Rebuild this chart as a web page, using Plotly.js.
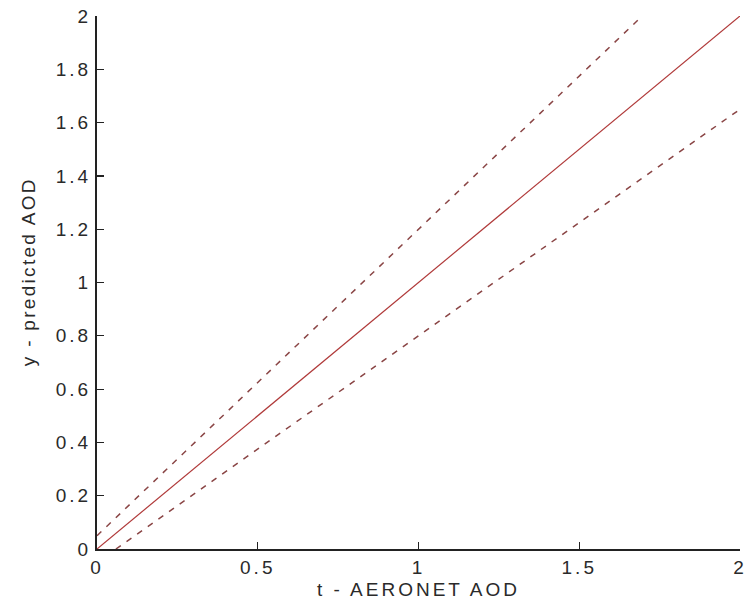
<!DOCTYPE html>
<html>
<head>
<meta charset="utf-8">
<script src="https://cdn.plot.ly/plotly-3.0.1.min.js"></script>
<style>
html,body{margin:0;padding:0;background:#fff;}
#chart{width:754px;height:603px;}
#chart .xtick text, #chart .ytick text { letter-spacing: 3px; }
#chart .xtitle { letter-spacing: 3px; }
#chart .annotation-text { letter-spacing: 2.3px; }
</style>
</head>
<body>
<div id="chart"></div>
<script>
// 1:1 line
const oneX = [0, 2];
const oneY = [0, 2];
// upper envelope y = 1.15x + 0.05
const upX = [0, 1.696];
const upY = [0.05, 2];
// lower envelope y = 0.85x - 0.05
const loX = [0.0588, 2];
const loY = [0, 1.65];
const yTickVals = [0, 0.2, 0.4, 0.6, 0.8, 1, 1.2, 1.4, 1.6, 1.8, 2];
const yTickText = ['0','0.2','0.4','0.6','0.8','1','1.2','1.4','1.6','1.8','2'];
const xTickVals = [0, 0.5, 1, 1.5, 2];
const xTickText = ['0','0.5','1','1.5','2'];
const xTitle = 't - AERONET AOD';
const yTitle = 'y - predicted AOD';

const traces = [
  {x: oneX, y: oneY, mode: 'lines', line: {color: '#b03a3a', width: 1.2}, hoverinfo: 'skip'},
  {x: upX, y: upY, mode: 'lines', line: {color: '#8a4545', width: 1.5, dash: '6px,7px'}, hoverinfo: 'skip'},
  {x: loX, y: loY, mode: 'lines', line: {color: '#8a4545', width: 1.5, dash: '6px,7px'}, hoverinfo: 'skip'}
];
const fontCol = '#2a2a2a';
const layout = {
  width: 754, height: 603,
  margin: {l: 97, r: 14, t: 16, b: 54},
  paper_bgcolor: '#fff', plot_bgcolor: '#fff',
  showlegend: false,
  font: {family: 'Liberation Sans, Arial, sans-serif', size: 19, color: fontCol},
  xaxis: {
    range: [0, 2], tickvals: xTickVals, ticktext: xTickText,
    ticks: 'inside', ticklen: 7, tickcolor: '#222', tickwidth: 1.2,
    showline: true, linecolor: '#222', linewidth: 2, mirror: false,
    showgrid: false, zeroline: false,
    tickfont: {size: 19, color: fontCol},
    title: {text: xTitle, font: {size: 19, color: fontCol}, standoff: 6}
  },
  yaxis: {
    range: [0, 2], tickvals: yTickVals, ticktext: yTickText,
    ticks: 'inside', ticklen: 7, tickcolor: '#222', tickwidth: 1.2,
    showline: true, linecolor: '#222', linewidth: 2, mirror: false,
    showgrid: false, zeroline: false,
    tickfont: {size: 19, color: fontCol}
  },
  annotations: [{
    text: yTitle, textangle: -90, showarrow: false,
    xref: 'paper', yref: 'paper', x: -0.106, y: 0.52,
    xanchor: 'center', yanchor: 'middle',
    font: {size: 19, color: fontCol}
  }]
};
Plotly.newPlot('chart', traces, layout, {staticPlot: true, displayModeBar: false});
</script>
</body>
</html>
